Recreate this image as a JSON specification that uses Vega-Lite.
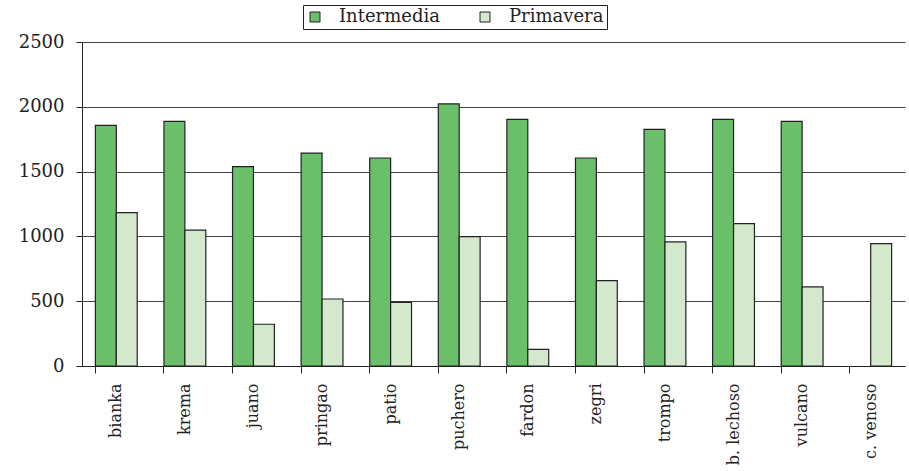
{
  "$schema": "https://vega.github.io/schema/vega-lite/v6.json",
  "autosize": "none",
  "width": 823,
  "height": 324,
  "padding": {"left": 82, "top": 42, "right": 4, "bottom": 105},
  "background": "white",
  "data": {
    "values": [
      {"cultivar": "bianka", "serie": "Intermedia", "valor": 1857},
      {"cultivar": "bianka", "serie": "Primavera", "valor": 1184},
      {"cultivar": "krema", "serie": "Intermedia", "valor": 1888},
      {"cultivar": "krema", "serie": "Primavera", "valor": 1049},
      {"cultivar": "juano", "serie": "Intermedia", "valor": 1538},
      {"cultivar": "juano", "serie": "Primavera", "valor": 322},
      {"cultivar": "pringao", "serie": "Intermedia", "valor": 1643},
      {"cultivar": "pringao", "serie": "Primavera", "valor": 517},
      {"cultivar": "patio", "serie": "Intermedia", "valor": 1605},
      {"cultivar": "patio", "serie": "Primavera", "valor": 491},
      {"cultivar": "puchero", "serie": "Intermedia", "valor": 2022},
      {"cultivar": "puchero", "serie": "Primavera", "valor": 998},
      {"cultivar": "fardon", "serie": "Intermedia", "valor": 1903},
      {"cultivar": "fardon", "serie": "Primavera", "valor": 129},
      {"cultivar": "zegri", "serie": "Intermedia", "valor": 1605},
      {"cultivar": "zegri", "serie": "Primavera", "valor": 658},
      {"cultivar": "trompo", "serie": "Intermedia", "valor": 1826},
      {"cultivar": "trompo", "serie": "Primavera", "valor": 957},
      {"cultivar": "b. lechoso", "serie": "Intermedia", "valor": 1903},
      {"cultivar": "b. lechoso", "serie": "Primavera", "valor": 1098},
      {"cultivar": "vulcano", "serie": "Intermedia", "valor": 1888},
      {"cultivar": "vulcano", "serie": "Primavera", "valor": 610},
      {"cultivar": "c. venoso", "serie": "Primavera", "valor": 944}
    ]
  },
  "mark": {"type": "bar", "stroke": "#222222", "strokeWidth": 1.2},
  "encoding": {
    "x": {
      "field": "cultivar",
      "type": "nominal",
      "sort": null,
      "title": null,
      "scale": {"paddingInner": 0.39, "paddingOuter": 0.195},
      "axis": {
        "bandPosition": 0,
        "labelAngle": -90,
        "labelAlign": "right",
        "labelBaseline": "middle",
        "labelFont": "DejaVu Serif",
        "labelFontSize": 16,
        "labelColor": "#222222",
        "labelPadding": 10,
        "tickSize": 7,
        "tickColor": "#222222",
        "domainColor": "#222222",
        "grid": false
      }
    },
    "xOffset": {"field": "serie", "type": "nominal", "sort": ["Intermedia", "Primavera"]},
    "y": {
      "field": "valor",
      "type": "quantitative",
      "title": null,
      "scale": {"domain": [0, 2500], "nice": false},
      "axis": {
        "values": [0, 500, 1000, 1500, 2000, 2500],
        "format": "d",
        "labelFont": "DejaVu Serif",
        "labelFontSize": 18,
        "labelColor": "#222222",
        "labelPadding": 12,
        "tickSize": 6,
        "tickColor": "#222222",
        "domainColor": "#222222",
        "gridColor": "#444444",
        "gridWidth": 1
      }
    },
    "fill": {
      "field": "serie",
      "type": "nominal",
      "sort": ["Intermedia", "Primavera"],
      "scale": {"domain": ["Intermedia", "Primavera"], "range": ["#6bbf6a", "#d3e8cd"]},
      "legend": {
        "title": null,
        "orient": "none",
        "direction": "horizontal",
        "legendX": 221,
        "legendY": -37,
        "strokeColor": "#222222",
        "padding": 3,
        "symbolType": "square",
        "symbolSize": 100,
        "symbolStrokeColor": "#222222",
        "symbolStrokeWidth": 1,
        "labelFont": "DejaVu Serif",
        "labelFontSize": 18,
        "labelColor": "#222222",
        "labelOffset": 15,
        "columnPadding": 36
      }
    }
  },
  "config": {"view": {"stroke": null}}
}
